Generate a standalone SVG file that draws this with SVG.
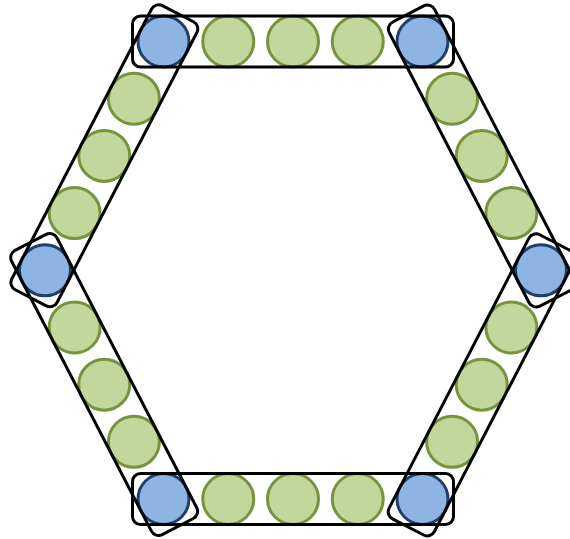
<svg xmlns="http://www.w3.org/2000/svg" width="570" height="539" viewBox="0 0 570 539">
<style>
.g{fill:#C3D69B;stroke:#77933C;stroke-width:3}
.b{fill:#8EB4E3;stroke:#1F3F66;stroke-width:3}
.r{fill:none;stroke:#000;stroke-width:3}
</style>
<rect width="570" height="539" fill="#fff"/>
<g id="circles">
<g id="blue">
<circle class="b" cx="163.5" cy="41.5" r="25.5"/>
<circle class="b" cx="422.5" cy="41.5" r="25.5"/>
<circle class="b" cx="541" cy="270.3" r="25.5"/>
<circle class="b" cx="422.5" cy="499" r="25.5"/>
<circle class="b" cx="163.5" cy="499" r="25.5"/>
<circle class="b" cx="45" cy="270.3" r="25.5"/>
</g>
<g id="green">
<circle class="g" cx="228.25" cy="41.5" r="25.5"/>
<circle class="g" cx="293" cy="41.5" r="25.5"/>
<circle class="g" cx="357.75" cy="41.5" r="25.5"/>
<circle class="g" cx="452.1" cy="98.7" r="25.5"/>
<circle class="g" cx="481.75" cy="155.9" r="25.5"/>
<circle class="g" cx="511.4" cy="213.1" r="25.5"/>
<circle class="g" cx="511.4" cy="327.5" r="25.5"/>
<circle class="g" cx="481.75" cy="384.65" r="25.5"/>
<circle class="g" cx="452.1" cy="441.8" r="25.5"/>
<circle class="g" cx="228.25" cy="499" r="25.5"/>
<circle class="g" cx="293" cy="499" r="25.5"/>
<circle class="g" cx="357.75" cy="499" r="25.5"/>
<circle class="g" cx="133.9" cy="441.8" r="25.5"/>
<circle class="g" cx="104.25" cy="384.65" r="25.5"/>
<circle class="g" cx="74.6" cy="327.5" r="25.5"/>
<circle class="g" cx="74.6" cy="213.1" r="25.5"/>
<circle class="g" cx="104.25" cy="155.9" r="25.5"/>
<circle class="g" cx="133.9" cy="98.7" r="25.5"/>
</g>
</g>
<g id="frames">
<g id="top"><rect class="r" x="-31" y="-25.5" width="321" height="51" rx="8" transform="translate(163.5 41.5)"/></g>
<g id="upper-right"><rect class="r" x="-31" y="-25.5" width="320" height="51" rx="8" transform="translate(422.5 41.5) rotate(62.62)"/></g>
<g id="lower-right"><rect class="r" x="-31" y="-25.5" width="320" height="51" rx="8" transform="translate(541 270.3) rotate(117.38)"/></g>
<g id="bottom"><rect class="r" x="-31" y="-25.5" width="321" height="51" rx="8" transform="translate(163.5 499)"/></g>
<g id="lower-left"><rect class="r" x="-31" y="-25.5" width="320" height="51" rx="8" transform="translate(163.5 499) rotate(-117.38)"/></g>
<g id="upper-left"><rect class="r" x="-31" y="-25.5" width="320" height="51" rx="8" transform="translate(45 270.3) rotate(-62.62)"/></g>
</g>
</svg>
